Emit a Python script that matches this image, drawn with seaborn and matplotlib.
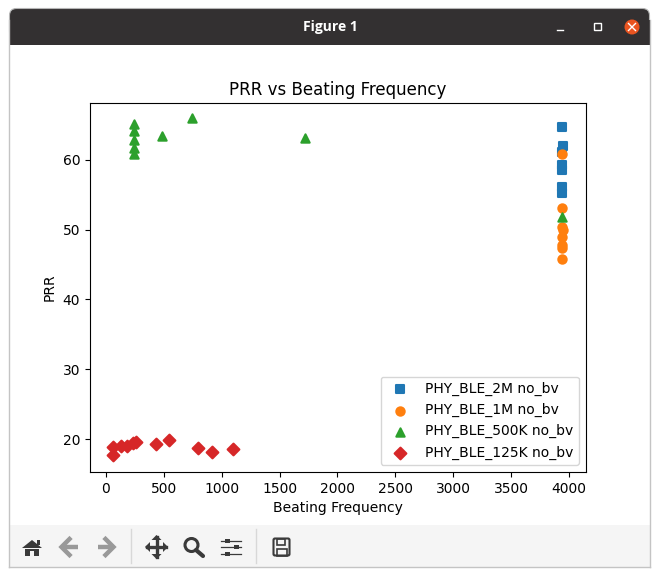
import matplotlib
matplotlib.use("Agg")
import matplotlib.pyplot as plt
from matplotlib.patches import Rectangle, FancyBboxPatch, Circle, Polygon
from matplotlib.lines import Line2D
import seaborn as sns

x_2m = [3940, 3950, 3940, 3940, 3940, 3940, 3940]
y_2m = [64.7, 62.0, 61.2, 59.3, 58.6, 56.1, 55.3]
x_1m = [3940, 3940, 3940, 3945, 3940, 3940, 3940, 3940]
y_1m = [60.8, 53.1, 50.4, 50.0, 49.0, 47.8, 47.4, 45.8]
x_500k = [245, 245, 245, 245, 245, 486, 740, 1722, 3940]
y_500k = [65.2, 64.2, 62.9, 61.7, 60.8, 63.4, 66.0, 63.1, 51.8]
x_125k = [58, 63, 127, 184, 231, 256, 429, 547, 798, 919, 1100]
y_125k = [18.9, 17.7, 19.0, 19.0, 19.4, 19.6, 19.3, 19.8, 18.7, 18.1, 18.5]

W, H = 660, 577
fig = plt.figure(figsize=(W / 100, H / 100), dpi=100, facecolor="white")

# window chrome, in screenshot pixels
ui = fig.add_axes([0, 0, 1, 1], zorder=0)
ui.set_xlim(0, W)
ui.set_ylim(H, 0)
ui.axis("off")
DARK = "#333031"
ICON = "#3a3a3a"
ui.add_patch(FancyBboxPatch((9.5, 8.5), 640, 30, boxstyle="round,pad=0,rounding_size=7",
                            fc=DARK, ec="#b5b5b5", lw=0.8))
ui.add_patch(Rectangle((9.5, 20), 640, 24.5, fc=DARK, ec="none"))
ui.add_line(Line2D([9, 9], [20, 567], color="#c4c4c4", lw=1))
ui.add_line(Line2D([650, 650], [20, 567], color="#c4c4c4", lw=1))
ui.add_patch(Rectangle((9.5, 525), 640, 42, fc="#f5f5f5", ec="none"))
ui.add_line(Line2D([9, 650], [567, 567], color="#c4c4c4", lw=1))
ui.text(330, 27, "Figure 1", color="white", fontsize=10, fontweight="bold",
        family="Open Sans", ha="center", va="center")
ui.add_line(Line2D([557, 563], [30, 30], color="white", lw=1))
ui.add_patch(Rectangle((594, 23), 6.5, 6.5, fc="none", ec="white", lw=1))
ui.add_patch(Circle((632, 27), 7.5, fc="#E95420", ec="none"))
ui.add_line(Line2D([628.5, 635.5], [23.5, 30.5], color="white", lw=1))
ui.add_line(Line2D([635.5, 628.5], [23.5, 30.5], color="white", lw=1))

# toolbar icons
ui.add_patch(Polygon([[22, 548], [32, 540], [42, 548]], fc=ICON, ec="none"))
ui.add_patch(Polygon([[25, 549], [39, 549], [39, 556], [34, 556], [34, 551], [30, 551], [30, 556], [25, 556]],
                     fc=ICON, ec="none"))
ui.add_patch(Rectangle((37, 540), 2.5, 5, fc=ICON, ec="none"))
for cx, d in ((69.5, -1), (105.5, 1)):
    ui.add_line(Line2D([cx - d * 8, cx + d * 7], [547, 547], color="#999999", lw=3.2, solid_capstyle="butt"))
    ui.add_line(Line2D([cx, cx + d * 8, cx], [539, 547, 555], color="#999999", lw=3.2, solid_joinstyle="miter"))
for sx in (131, 256):
    ui.add_line(Line2D([sx, sx], [529, 563], color="#d8d8d8", lw=1))
ui.add_line(Line2D([147, 166], [547, 547], color=ICON, lw=2.4))
ui.add_line(Line2D([156.5, 156.5], [537, 557], color=ICON, lw=2.4))
for p in ([[145, 547], [150, 542], [150, 552]], [[168, 547], [163, 542], [163, 552]],
          [[156.5, 535], [151.5, 540], [161.5, 540]], [[156.5, 559], [151.5, 554], [161.5, 554]]):
    ui.add_patch(Polygon(p, fc=ICON, ec="none"))
ui.add_patch(Circle((191.5, 545), 6.5, fc="none", ec=ICON, lw=2.2))
ui.add_line(Line2D([196, 203], [550, 556], color=ICON, lw=3, solid_capstyle="round"))
for yy, xx in ((540.5, 227), (547, 236), (553.5, 227)):
    ui.add_line(Line2D([221, 241], [yy, yy], color=ICON, lw=0.9))
    ui.add_patch(Rectangle((xx - 2.5, yy - 2), 5, 4, fc=ICON, ec="none"))
ui.add_patch(FancyBboxPatch((273.5, 538.5), 16, 17, boxstyle="round,pad=0,rounding_size=1.5",
                            fc="none", ec=ICON, lw=1.5))
ui.add_patch(Rectangle((277, 538.5), 8, 6, fc="none", ec=ICON, lw=1.2))
ui.add_patch(Rectangle((276.5, 549), 10.5, 6.5, fc="none", ec=ICON, lw=1.2))

# chart
ax = fig.add_axes([90 / W, (H - 472) / H, 496 / W, 369 / H], zorder=1)
series = [
    (x_2m, y_2m, "s", "#1f77b4", "PHY_BLE_2M no_bv"),
    (x_1m, y_1m, "o", "#ff7f0e", "PHY_BLE_1M no_bv"),
    (x_500k, y_500k, "^", "#2ca02c", "PHY_BLE_500K no_bv"),
    (x_125k, y_125k, "D", "#d62728", "PHY_BLE_125K no_bv"),
]
for xs, ys, mk, col, lab in series:
    sns.scatterplot(x=xs, y=ys, marker=mk, color=col, label=lab, s=36,
                    edgecolor="face", linewidth=1.5, ax=ax)
ax.set_xlim(-138, 4147)
ax.set_ylim(15.27, 68.17)
ax.set_title("PRR vs Beating Frequency")
ax.set_xlabel("Beating Frequency")
ax.set_ylabel("PRR")
ax.legend(loc="lower right")

fig.savefig("out.png", dpi=100)
